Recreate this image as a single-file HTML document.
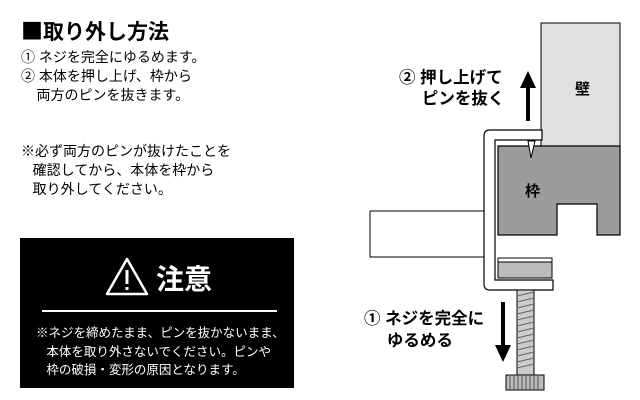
<!DOCTYPE html>
<html><head><meta charset="utf-8"><style>
body{margin:0;width:640px;height:400px;background:#fff;overflow:hidden;position:relative;font-family:"Liberation Sans","Noto Sans CJK JP",sans-serif;color:#000}
.t{position:absolute;white-space:nowrap}
</style></head><body>
<div class="t" style="left:21px;top:14px;font-size:21px;font-weight:bold;"><span style="font-family:'Noto Sans CJK JP',sans-serif;font-size:22px">■</span>取り外し方法</div>
<div class="t" style="left:21px;top:48px;font-size:14px;line-height:19px;">① ネジを完全にゆるめます。<br>② 本体を押し上げ、枠から<br>&nbsp;&nbsp;&nbsp;&nbsp;両方のピンを抜きます。</div>
<div class="t" style="left:21px;top:142px;font-size:14px;line-height:19px;">※必ず両方のピンが抜けたことを<br>&nbsp;&nbsp;&nbsp;確認してから、本体を枠から<br>&nbsp;&nbsp;&nbsp;取り外してください。</div>
<div style="position:absolute;left:20px;top:238px;width:274px;height:150px;background:#000;"></div>
<svg style="position:absolute;left:104px;top:256px" width="46" height="42"><polygon points="23,3 43,38 3,38" fill="none" stroke="#fff" stroke-width="2.5" stroke-linejoin="round"/><rect x="21.5" y="14" width="3" height="14" fill="#fff"/><rect x="21.5" y="31" width="3" height="3" fill="#fff"/></svg>
<div class="t" style="left:156px;top:258px;font-size:28px;font-weight:bold;color:#fff;">注意</div>
<div style="position:absolute;left:42px;top:310px;width:235px;height:2px;background:#fff;"></div>
<div class="t" style="left:36px;top:324px;font-size:12.5px;line-height:18.5px;color:#fff;">※ネジを締めたまま、ピンを抜かないまま、<br>&nbsp;&nbsp;&nbsp;本体を取り外さないでください。ピンや<br>&nbsp;&nbsp;&nbsp;枠の破損・変形の原因となります。</div>
<svg style="position:absolute;left:0;top:0" width="640" height="400">
<rect x="541" y="23" width="79" height="123" fill="#e0e0e0" stroke="#000" stroke-width="1"/>
<path d="M498,146 H620 V235 H597 V204 H557 V235 H498 Z" fill="#9c9c9c" stroke="#000" stroke-width="1.2"/>
<rect x="370" y="211" width="114" height="46" fill="#fff" stroke="#000" stroke-width="1"/>
<path d="M542,130 H490 Q484,130 484,136 V284 Q484,290 490,290 H553 V280 H495 V140 H542 Z" fill="#fff" stroke="#000" stroke-width="1.2"/>
<rect x="498" y="258" width="54" height="20" fill="#bbb" stroke="#000" stroke-width="1"/>
<rect x="498" y="258" width="54" height="4" fill="#fff" stroke="#000" stroke-width="1"/>
<polygon points="528,141 535,141 531,158" fill="#fff" stroke="#000" stroke-width="1"/>
<rect x="517" y="290" width="17" height="86" fill="#ccc" stroke="#000" stroke-width="1"/>
<g stroke="#666" stroke-width="1">
<line x1="517" y1="296" x2="534" y2="292"/><line x1="517" y1="302" x2="534" y2="298"/><line x1="517" y1="308" x2="534" y2="304"/><line x1="517" y1="314" x2="534" y2="310"/><line x1="517" y1="320" x2="534" y2="316"/><line x1="517" y1="326" x2="534" y2="322"/><line x1="517" y1="332" x2="534" y2="328"/><line x1="517" y1="338" x2="534" y2="334"/><line x1="517" y1="344" x2="534" y2="340"/><line x1="517" y1="350" x2="534" y2="346"/><line x1="517" y1="356" x2="534" y2="352"/><line x1="517" y1="362" x2="534" y2="358"/><line x1="517" y1="368" x2="534" y2="364"/></g>
<rect x="506" y="375" width="38" height="15" fill="#bbb" stroke="#000" stroke-width="1"/>
<g stroke="#555" stroke-width="1"><line x1="510" y1="376" x2="510" y2="390"/><line x1="514" y1="376" x2="514" y2="390"/><line x1="518" y1="376" x2="518" y2="390"/><line x1="522" y1="376" x2="522" y2="390"/><line x1="526" y1="376" x2="526" y2="390"/><line x1="530" y1="376" x2="530" y2="390"/><line x1="534" y1="376" x2="534" y2="390"/><line x1="538" y1="376" x2="538" y2="390"/></g>
<rect x="526" y="86" width="4" height="35" fill="#000"/><polygon points="528,71 520,88 536,88" fill="#000"/>
<rect x="501" y="302" width="4" height="45" fill="#000"/><polygon points="503,362 495,345 511,345" fill="#000"/>
</svg>
<div class="t" style="left:525px;top:180px;font-size:15px;font-weight:bold;">枠</div>
<div class="t" style="left:575px;top:78px;font-size:15px;font-weight:bold;">壁</div>
<div class="t" style="left:399px;top:68px;font-size:16.5px;font-weight:bold;line-height:21px;">② 押し上げて<br>&nbsp;&nbsp;&nbsp;&nbsp;&nbsp;ピンを抜く</div>
<div class="t" style="left:364px;top:308px;font-size:16.5px;font-weight:bold;line-height:22px;">① ネジを完全に<br>&nbsp;&nbsp;&nbsp;&nbsp;&nbsp;ゆるめる</div>
</body></html>
